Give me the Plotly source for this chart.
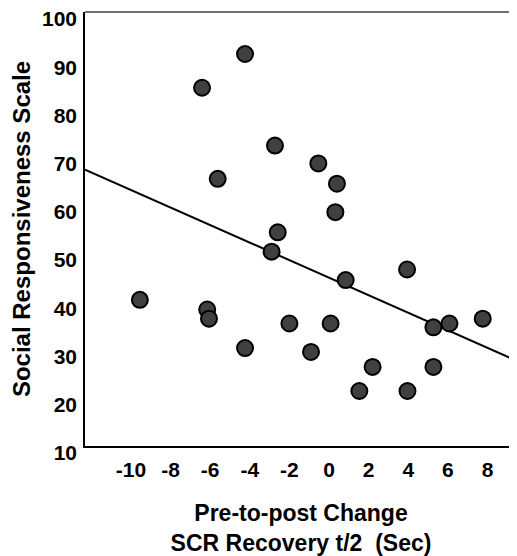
import plotly.graph_objects as go

# Data
scr_change = [-4.24, -6.41, -5.62, -2.73, -0.54, 0.40, 0.32, -2.59, -2.90, 3.94,
              0.84, -9.55, -6.15, -6.06, -4.24, -2.00, 0.08, -0.91, 2.20, 1.53,
              3.96, 5.27, 5.27, 6.08, 7.76]
srs_score = [91.3, 84.3, 65.4, 72.3, 68.6, 64.4, 58.5, 54.3, 50.3, 46.6,
             44.4, 40.3, 38.3, 36.4, 30.3, 35.4, 35.4, 29.5, 26.4, 21.4,
             21.4, 26.4, 34.6, 35.4, 36.4]

fit_slope = -1.82
fit_intercept = 44.9

x_range = [-12.32, 9.49]
y_range = [9.99, 100.01]
x_ticks = [-10, -8, -6, -4, -2, 0, 2, 4, 6, 8]
x_ticktext = ["-10", "-8", "-6", "-4", "-2", "0", "2", "4", "6", "8"]
y_ticks = [10, 20, 30, 40, 50, 60, 70, 80, 90, 100]

fit_x = x_range
fit_y = [fit_intercept + fit_slope * v for v in fit_x]

FONT = "Liberation Sans, Arial, sans-serif"

fig = go.Figure()
fig.add_trace(go.Scatter(x=fit_x, y=fit_y, mode="lines",
                         line=dict(color="black", width=2), showlegend=False,
                         hoverinfo="skip"))
fig.add_trace(go.Scatter(x=scr_change, y=srs_score, mode="markers",
                         marker=dict(size=16, color="#404040",
                                     line=dict(color="black", width=2)),
                         showlegend=False))

# page body has an 8px margin, so the figure is 8px smaller than the window
fig.update_layout(
    width=509, height=548,
    margin=dict(l=77, r=0, t=4, b=110),
    paper_bgcolor="white", plot_bgcolor="white",
    font=dict(family=FONT, color="black"),
    xaxis=dict(range=x_range, tickvals=x_ticks, ticktext=x_ticktext,
               showgrid=False, zeroline=False, automargin=False,
               showline=True, linecolor="black", linewidth=1.5, ticks="",
               tickfont=dict(size=21, family=FONT, weight="bold"),
               ticklabelstandoff=4, ticklabeloverflow="allow",
               title=dict(text="Pre-to-post Change<br>SCR Recovery t/2  (Sec)",
                          font=dict(size=23, family=FONT, weight="bold"),
                          standoff=29)),
    yaxis=dict(range=y_range, tickvals=y_ticks, showgrid=False, zeroline=False,
               automargin=False,
               showline=True, linecolor="black", linewidth=1.5, ticks="",
               tickfont=dict(size=21, family=FONT, weight="bold"),
               ticklabelshift=7, ticklabelstandoff=2, ticklabeloverflow="allow",
               title=dict(text="Social Responsiveness Scale",
                          font=dict(size=24, family=FONT, weight="bold"),
                          standoff=15)),
    shapes=[dict(type="line", xref="paper", yref="paper", x0=0, x1=1, y0=1, y1=1,
                 line=dict(color="#707070", width=2))],
)

fig.write_html("out.html")
